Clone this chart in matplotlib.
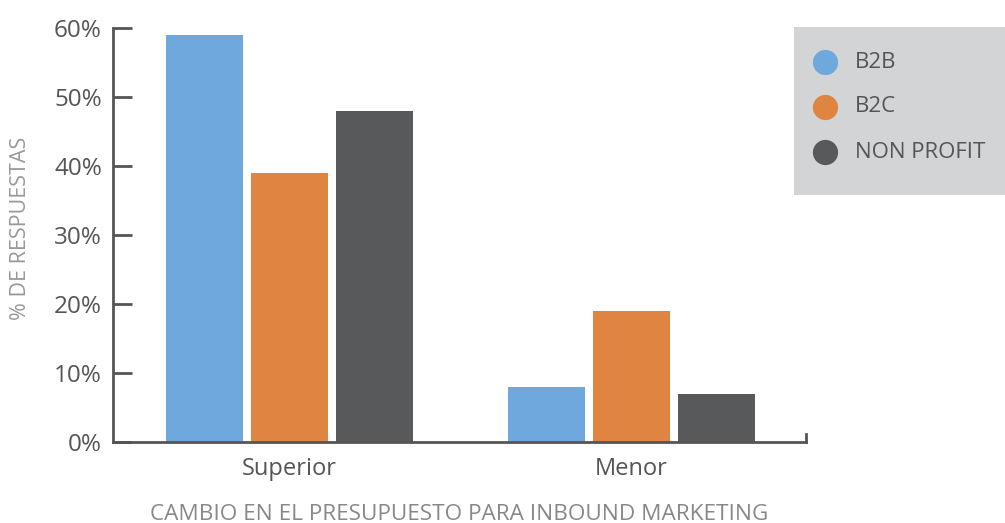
import matplotlib
matplotlib.use("Agg")
import matplotlib.pyplot as plt
import numpy as np

plt.rcParams['font.family'] = ['Open Sans', 'DejaVu Sans']

categories = ["Superior", "Menor"]
series = ["B2B", "B2C", "NON PROFIT"]
values = {
    "B2B": [59, 8],
    "B2C": [39, 19],
    "NON PROFIT": [48, 7],
}
colors = {"B2B": "#6fa8dc", "B2C": "#e08442", "NON PROFIT": "#58595b"}
yticks = [0, 10, 20, 30, 40, 50, 60]
ylabel = "% DE RESPUESTAS"
xlabel = "CAMBIO EN EL PRESUPUESTO PARA INBOUND MARKETING"

axis_color = "#555555"
W, H = 1005, 523
fig = plt.figure(figsize=(W / 100, H / 100), dpi=100)
ax = fig.add_axes([113 / W, 81 / H, 693 / W, 414 / H])

x = np.arange(len(categories))
width = 0.2255
step = 0.249
for i, name in enumerate(series):
    ax.bar(x + (i - 1) * step, values[name], width, color=colors[name], zorder=1)

ax.set_xlim(-0.517, 1.512)
ax.set_ylim(0, 60)
ax.set_yticks(yticks)
ax.set_yticklabels([f"{t}%" for t in yticks])
ax.set_xticks(x)
ax.set_xticklabels(categories)

for side in ("top", "right"):
    ax.spines[side].set_visible(False)
for side in ("left", "bottom"):
    ax.spines[side].set_color(axis_color)
    ax.spines[side].set_linewidth(2)
    ax.spines[side].set_zorder(3)

ax.tick_params(axis="y", direction="in", length=14, width=2, color=axis_color,
               labelsize=17.5, labelcolor=axis_color, pad=8)
ax.tick_params(axis="x", length=0, labelsize=17, labelcolor=axis_color, pad=11)

# small end cap on the right of the baseline
ax.plot([1.512, 1.512], [0, 1.2], color=axis_color, lw=2, clip_on=False, zorder=3)

fig.text(20 / W, 1 - 228 / H, ylabel, rotation=90, ha="center", va="center",
         fontsize=15.5, color="#999999")
fig.text(459 / W, 1 - 514 / H, xlabel, ha="center", va="center",
         fontsize=16.2, color="#888888")

# legend box
lax = fig.add_axes([794 / W, (H - 195) / H, 211 / W, 168 / H])
lax.set_facecolor("#d3d4d6")
lax.set_xlim(0, 211)
lax.set_ylim(168, 0)
for s in lax.spines.values():
    s.set_visible(False)
lax.set_xticks([])
lax.set_yticks([])
for i, name in enumerate(series):
    yy = 35 + i * 45
    lax.scatter([31], [yy], s=330, color=colors[name], linewidths=0)
    lax.text(61, yy, name, va="center", ha="left", fontsize=16, color=axis_color)

fig.savefig("out.png", dpi=100)
